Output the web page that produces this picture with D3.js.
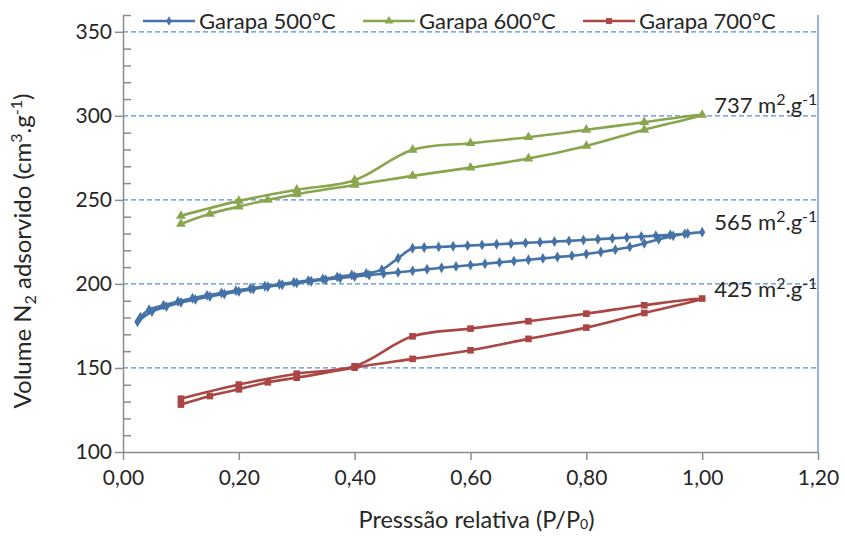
<!DOCTYPE html>
<html>
<head>
<meta charset="utf-8">
<script src="https://cdn.jsdelivr.net/npm/d3@7"></script>
<style>
  html, body { margin: 0; padding: 0; background: #fff; }
  svg { display: block; font-family: Lato, "Open Sans", sans-serif; }
</style>
</head>
<body>
<svg id="chart" width="845" height="536"></svg>
<script>
// N2 adsorption/desorption isotherms (adsorption branch followed by desorption branch)
const seriesNames = ["Garapa 500°C", "Garapa 600°C", "Garapa 700°C"];

const pressure500 = [0.025, 0.05, 0.075, 0.1, 0.125, 0.15, 0.175, 0.2, 0.225, 0.25, 0.275, 0.3, 0.325, 0.35, 0.375, 0.4, 0.425, 0.45, 0.475, 0.5, 0.525, 0.55, 0.575, 0.6, 0.625, 0.65, 0.675, 0.7, 0.725, 0.75, 0.775, 0.8, 0.825, 0.85, 0.875, 0.9, 0.925, 0.95, 0.975, 1.0,
  0.97, 0.945, 0.92, 0.895, 0.87, 0.845, 0.82, 0.795, 0.77, 0.745, 0.72, 0.695, 0.67, 0.645, 0.62, 0.595, 0.57, 0.545, 0.52, 0.5, 0.475, 0.447, 0.42, 0.395, 0.37, 0.345, 0.32, 0.295, 0.27, 0.245, 0.22, 0.195, 0.17, 0.145, 0.12, 0.095, 0.07, 0.045, 0.03];
const volume500 = [177.5, 183.5, 186.5, 189.0, 190.8, 192.5, 194.0, 195.5, 197.0, 198.3, 199.5, 200.6, 201.6, 202.6, 203.5, 204.4, 205.3, 206.1, 206.9, 207.8, 208.7, 209.6, 210.4, 211.2, 212.0, 212.8, 213.6, 214.4, 215.2, 216.0, 216.8, 217.8, 219.0, 220.4, 222.0, 224.2, 226.6, 228.6, 230.0, 230.8,
  229.8, 229.2, 228.7, 228.2, 227.6, 227.1, 226.6, 226.1, 225.6, 225.2, 224.8, 224.4, 224.0, 223.6, 223.2, 222.8, 222.4, 222.0, 221.7, 221.2, 215.3, 208.5, 206.3, 205.3, 204.2, 203.0, 202.0, 201.0, 199.8, 198.6, 197.3, 196.0, 194.6, 193.2, 191.5, 189.6, 187.3, 184.7, 180.2];

const pressure600 = [0.1, 0.15, 0.2, 0.25, 0.3, 0.4, 0.5, 0.6, 0.7, 0.8, 0.9, 1.0, 0.9, 0.8, 0.7, 0.6, 0.5, 0.4, 0.3, 0.2, 0.1];
const volume600 = [235.7, 241.7, 246.0, 250.0, 253.4, 258.9, 264.3, 269.2, 274.6, 282.1, 291.7, 300.6, 296.2, 291.7, 287.3, 283.7, 279.8, 261.7, 256.0, 249.4, 240.5];

const pressure700 = [0.1, 0.15, 0.2, 0.25, 0.3, 0.4, 0.5, 0.6, 0.7, 0.8, 0.9, 1.0, 0.9, 0.8, 0.7, 0.6, 0.5, 0.4, 0.3, 0.2, 0.1];
const volume700 = [128.2, 133.3, 137.3, 141.5, 144.2, 150.2, 155.4, 160.5, 167.3, 174.0, 182.7, 191.3, 187.3, 182.3, 177.8, 173.4, 168.8, 151.0, 146.6, 140.1, 131.7];

const areaLabels = ["565", "737", "425"];
const areaAt = [230.8, 300.6, 191.3];

const xTicks = [0, 0.2, 0.4, 0.6, 0.8, 1.0, 1.2];
const yTicks = [100, 150, 200, 250, 300, 350];
const yMinorTicks = [110, 120, 130, 140, 160, 170, 180, 190, 210, 220, 230, 240, 260, 270, 280, 290, 310, 320, 330, 340, 360];

const colors = ["#4572A7", "#89A54E", "#AA4643"];
const symbols = [d3.symbolDiamond, d3.symbolTriangle, d3.symbolSquare];
const symbolSizes = [34, 42, 44];

const svg = d3.select("#chart");
const plotLeft = 123, plotRight = 818, plotTop = 15, plotBottom = 452;

const x = d3.scaleLinear().domain([0, 1.2]).range([plotLeft, plotRight]);
const y = d3.scaleLinear().domain([100, 360]).range([plotBottom, plotTop]);

const ptBR = d3.formatLocale({decimal: ",", thousands: ".", grouping: [3], currency: ["R$", ""]});
const fmt2 = ptBR.format(".2f");

// dashed horizontal gridlines
svg.append("g").selectAll("line")
  .data(yTicks.filter(v => v > 100))
  .join("line")
  .attr("x1", x(0)).attr("x2", x(1.2))
  .attr("y1", d => y(d)).attr("y2", d => y(d))
  .attr("stroke", "#5B8ED6")
  .attr("stroke-width", 1.2)
  .attr("stroke-dasharray", "5,3");

// right frame line
svg.append("line")
  .attr("x1", x(1.2)).attr("x2", x(1.2))
  .attr("y1", y(360)).attr("y2", y(100))
  .attr("stroke", "#6F9BD6").attr("stroke-width", 1.5);

const axisColor = "#8C8C8C";
const textColor = "#262626";

// y axis, major ticks outward with labels
const yAxis = svg.append("g")
  .attr("transform", `translate(${plotLeft},0)`)
  .call(d3.axisLeft(y).tickValues(yTicks).tickSize(8).tickSizeOuter(0).tickPadding(3));
// minor ticks inward
svg.append("g")
  .attr("transform", `translate(${plotLeft},0)`)
  .call(d3.axisRight(y).tickValues(yMinorTicks).tickSize(8).tickSizeOuter(0).tickFormat(""))
  .call(g => g.select(".domain").remove());

const xAxis = svg.append("g")
  .attr("transform", `translate(0,${plotBottom})`)
  .call(d3.axisBottom(x).tickValues(xTicks).tickSize(8).tickSizeOuter(0).tickPadding(10).tickFormat(fmt2));

svg.selectAll(".domain").attr("stroke", axisColor).attr("stroke-width", 1.5);
svg.selectAll(".tick line").attr("stroke", axisColor).attr("stroke-width", 1.5);
svg.selectAll(".tick text")
  .attr("fill", textColor)
  .style("font-family", "Lato, 'Open Sans', sans-serif")
  .style("font-size", "21px");
yAxis.selectAll(".tick text").attr("x", -11);

// axis titles
svg.append("text")
  .attr("transform", "translate(31,251) rotate(-90)")
  .attr("text-anchor", "middle")
  .attr("fill", textColor)
  .style("font-size", "24px")
  .call(t => {
    t.append("tspan").text("Volume N");
    t.append("tspan").text("2").attr("font-size", "16px").attr("dy", 5);
    t.append("tspan").text(" adsorvido (cm").attr("dy", -5);
    t.append("tspan").text("3").attr("font-size", "16px").attr("dy", -9);
    t.append("tspan").text(".g").attr("dy", 9);
    t.append("tspan").text("-1").attr("font-size", "16px").attr("dy", -9);
    t.append("tspan").text(")").attr("dy", 9);
  });

svg.append("text")
  .attr("x", (plotLeft + plotRight) / 2 + 6)
  .attr("y", 528)
  .attr("text-anchor", "middle")
  .attr("fill", textColor)
  .style("font-size", "23.5px")
  .call(t => {
    t.append("tspan").text("Presssão relativa (P/P");
    t.append("tspan").text("0").attr("font-size", "14px").attr("dy", 1);
    t.append("tspan").text(")").attr("dy", -1);
  });

// isotherm series
const series = [
  {px: pressure500, vol: volume500},
  {px: pressure600, vol: volume600},
  {px: pressure700, vol: volume700}
];

const line = d3.line()
  .x(d => x(d[0]))
  .y(d => y(d[1]))
  .curve(d3.curveCatmullRom.alpha(0.5));

const drawOrder = [1, 0, 2];
drawOrder.forEach(i => {
  const s = series[i];
  const pts = s.px.map((p, k) => [p, s.vol[k]]);
  const g = svg.append("g");
  g.append("path")
    .attr("d", line(pts))
    .attr("fill", "none")
    .attr("stroke", colors[i])
    .attr("stroke-width", 2.6)
    .attr("stroke-linejoin", "round");
  g.selectAll("path.marker")
    .data(pts)
    .join("path")
    .attr("class", "marker")
    .attr("transform", d => `translate(${x(d[0])},${y(d[1])})`)
    .attr("d", d3.symbol(symbols[i], symbolSizes[i]))
    .attr("fill", colors[i]);
});

// surface area labels at the end of each isotherm
areaLabels.forEach((lab, i) => {
  svg.append("text")
    .attr("x", x(1.0) + 12)
    .attr("y", y(areaAt[i]) - 2)
    .attr("fill", textColor)
    .style("font-size", "22px")
    .call(t => {
      t.append("tspan").text(lab + " m");
      t.append("tspan").text("2").attr("font-size", "16px").attr("dy", -8);
      t.append("tspan").text(".g").attr("dy", 8);
      t.append("tspan").text("-1").attr("font-size", "16px").attr("dy", -8);
    });
});

// legend
const legendX = [143, 363, 583];
seriesNames.forEach((name, i) => {
  const g = svg.append("g").attr("transform", `translate(${legendX[i]},21)`);
  g.append("line").attr("x1", 0).attr("x2", 52).attr("y1", 0).attr("y2", 0)
    .attr("stroke", colors[i]).attr("stroke-width", 2.6);
  g.append("path").attr("transform", "translate(26,0)")
    .attr("d", d3.symbol(symbols[i], symbolSizes[i] * 0.8)).attr("fill", colors[i]);
  g.append("text").attr("x", 56).attr("y", 8)
    .attr("fill", textColor)
    .style("font-size", "22px")
    .text(name);
});
</script>
</body>
</html>
